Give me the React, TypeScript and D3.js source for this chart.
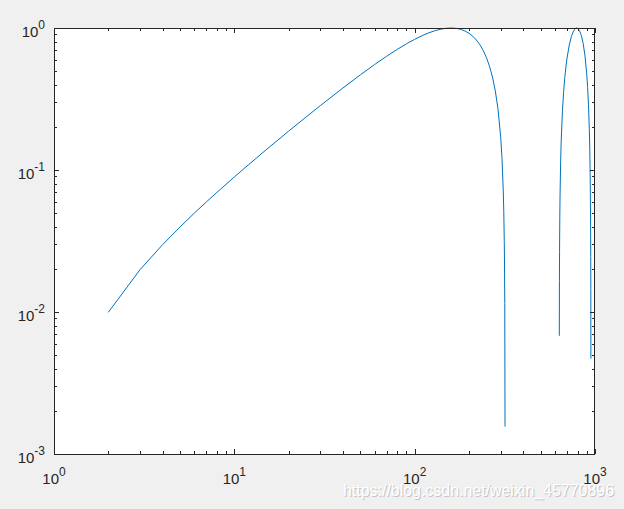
import React from "react";
import * as d3 from "d3";

// Sample index (x) and amplitude (y)
const xValues = [
  2, 3, 4, 5, 6, 7, 8, 10, 12, 15, 20, 25, 30, 40, 50, 60, 70, 80, 90, 100,
  110, 120, 130, 140, 150, 160, 170, 180, 190, 200, 210, 220, 230, 240, 250,
  260, 270, 280, 290, 300, 305, 310, 312, 314, 315, 316, 317, 318,
  633, 634, 635, 636, 638, 640, 645, 650, 660, 670, 680, 690, 700, 720, 740,
  760, 780, 790, 800, 820, 840, 860, 880, 900, 910, 920, 930, 935, 940, 943,
  945, 947, 948, 949, 950,
];
const yValues = [
  0.00994, 0.01987, 0.0298, 0.0397, 0.0497, 0.0596, 0.0695, 0.0893, 0.1091,
  0.1387, 0.1877, 0.2362, 0.2842, 0.3779, 0.4679, 0.5532, 0.6331, 0.7069,
  0.7736, 0.8324, 0.8835, 0.9255, 0.9585, 0.982, 0.9959, 0.99996, 0.9941,
  0.9785, 0.9532, 0.9185, 0.8747, 0.8223, 0.7619, 0.6939, 0.619, 0.538,
  0.4522, 0.3609, 0.2666, 0.1697, 0.1205, 0.0711, 0.0512, 0.0314, 0.02143,
  0.01149, 0.00156, -0.0084,
  -0.0031, 0.0068, 0.01675, 0.02668, 0.04655, 0.0664, 0.1159, 0.165, 0.2621,
  0.3565, 0.4475, 0.534, 0.6152, 0.7589, 0.8723, 0.9516, 0.9937, 0.99992,
  0.9963, 0.9599, 0.8856, 0.7765, 0.6369, 0.4718, 0.3822, 0.2887, 0.1923,
  0.1433, 0.094, 0.0643, 0.04444, 0.02456, 0.01462, 0.00469, -0.0053,
];

const xTickExps = [0, 1, 2, 3];
const yTickExps = [-3, -2, -1, 0];
const watermark = "https://blog.csdn.net/weixin_45770896";

const W = 624;
const H = 509;
const L = 54;
const R = 595;
const T = 28;
const B = 454;
const axisColor = "#262626";

export default function App() {
  const x = d3.scaleLog().domain([1, 1000]).range([L, R]);
  const y = d3.scaleLog().domain([0.001, 1]).range([B, T]);

  const pts = xValues.map((v, i) => ({ n: v, v: yValues[i] }));
  const line = d3
    .line<{ n: number; v: number }>()
    .defined((d) => d.v > 0)
    .x((d) => x(d.n))
    .y((d) => y(d.v));

  const xMinor: number[] = [];
  for (let e = 0; e < 3; e++)
    for (let m = 2; m <= 9; m++) xMinor.push(m * Math.pow(10, e));
  const yMinor: number[] = [];
  for (let e = -3; e < 0; e++)
    for (let m = 2; m <= 9; m++) yMinor.push(m * Math.pow(10, e));

  const major = 5;
  const minor = 3;

  return (
    <svg
      width={W}
      height={H}
      style={{ position: "absolute", left: 0, top: 0, background: "#f0f0f0" }}
      fontFamily="Arial, 'Liberation Sans', Helvetica, sans-serif"
    >
      <rect x={0} y={0} width={W} height={H} fill="#f0f0f0" />
      <rect x={L} y={T} width={R - L} height={B - T} fill="#ffffff" />

      <path
        d={line(pts) || ""}
        fill="none"
        stroke="#0072BD"
        strokeWidth={1}
      />

      <g stroke={axisColor} strokeWidth={1} shapeRendering="crispEdges">
        {xTickExps.map((e) => {
          const px = Math.round(x(Math.pow(10, e))) + 0.5;
          return (
            <g key={"xM" + e}>
              <line x1={px} x2={px} y1={B} y2={B - major} />
              <line x1={px} x2={px} y1={T} y2={T + major} />
            </g>
          );
        })}
        {xMinor.map((v) => {
          const px = Math.round(x(v)) + 0.5;
          return (
            <g key={"xm" + v}>
              <line x1={px} x2={px} y1={B} y2={B - minor} />
              <line x1={px} x2={px} y1={T} y2={T + minor} />
            </g>
          );
        })}
        {yTickExps.map((e) => {
          const py = Math.round(y(Math.pow(10, e))) + 0.5;
          return (
            <g key={"yM" + e}>
              <line x1={L} x2={L + major} y1={py} y2={py} />
              <line x1={R} x2={R - major} y1={py} y2={py} />
            </g>
          );
        })}
        {yMinor.map((v) => {
          const py = Math.round(y(v)) + 0.5;
          return (
            <g key={"ym" + v}>
              <line x1={L} x2={L + minor} y1={py} y2={py} />
              <line x1={R} x2={R - minor} y1={py} y2={py} />
            </g>
          );
        })}
        <rect
          x={L + 0.5}
          y={T + 0.5}
          width={R - L - 1}
          height={B - T}
          fill="none"
        />
      </g>

      <g fill={axisColor} fontSize={15}>
        {xTickExps.map((e) => (
          <text
            key={"xl" + e}
            x={x(Math.pow(10, e))}
            y={B + 30}
            textAnchor="middle"
          >
            10
            <tspan dy={-8} fontSize={12}>
              {String(e)}
            </tspan>
          </text>
        ))}
        {yTickExps.map((e) => (
          <text
            key={"yl" + e}
            x={45}
            y={y(Math.pow(10, e)) + 9}
            textAnchor="end"
          >
            10
            <tspan dy={-8} fontSize={12}>
              {String(e)}
            </tspan>
          </text>
        ))}
      </g>

      <text
        x={344}
        y={497}
        fontSize={16}
        fill="#c4c4c4"
        textLength={271}
        lengthAdjust="spacingAndGlyphs"
      >
        {watermark}
      </text>
      <text
        x={343}
        y={496}
        fontSize={16}
        fill="#ffffff"
        textLength={271}
        lengthAdjust="spacingAndGlyphs"
      >
        {watermark}
      </text>
    </svg>
  );
}
